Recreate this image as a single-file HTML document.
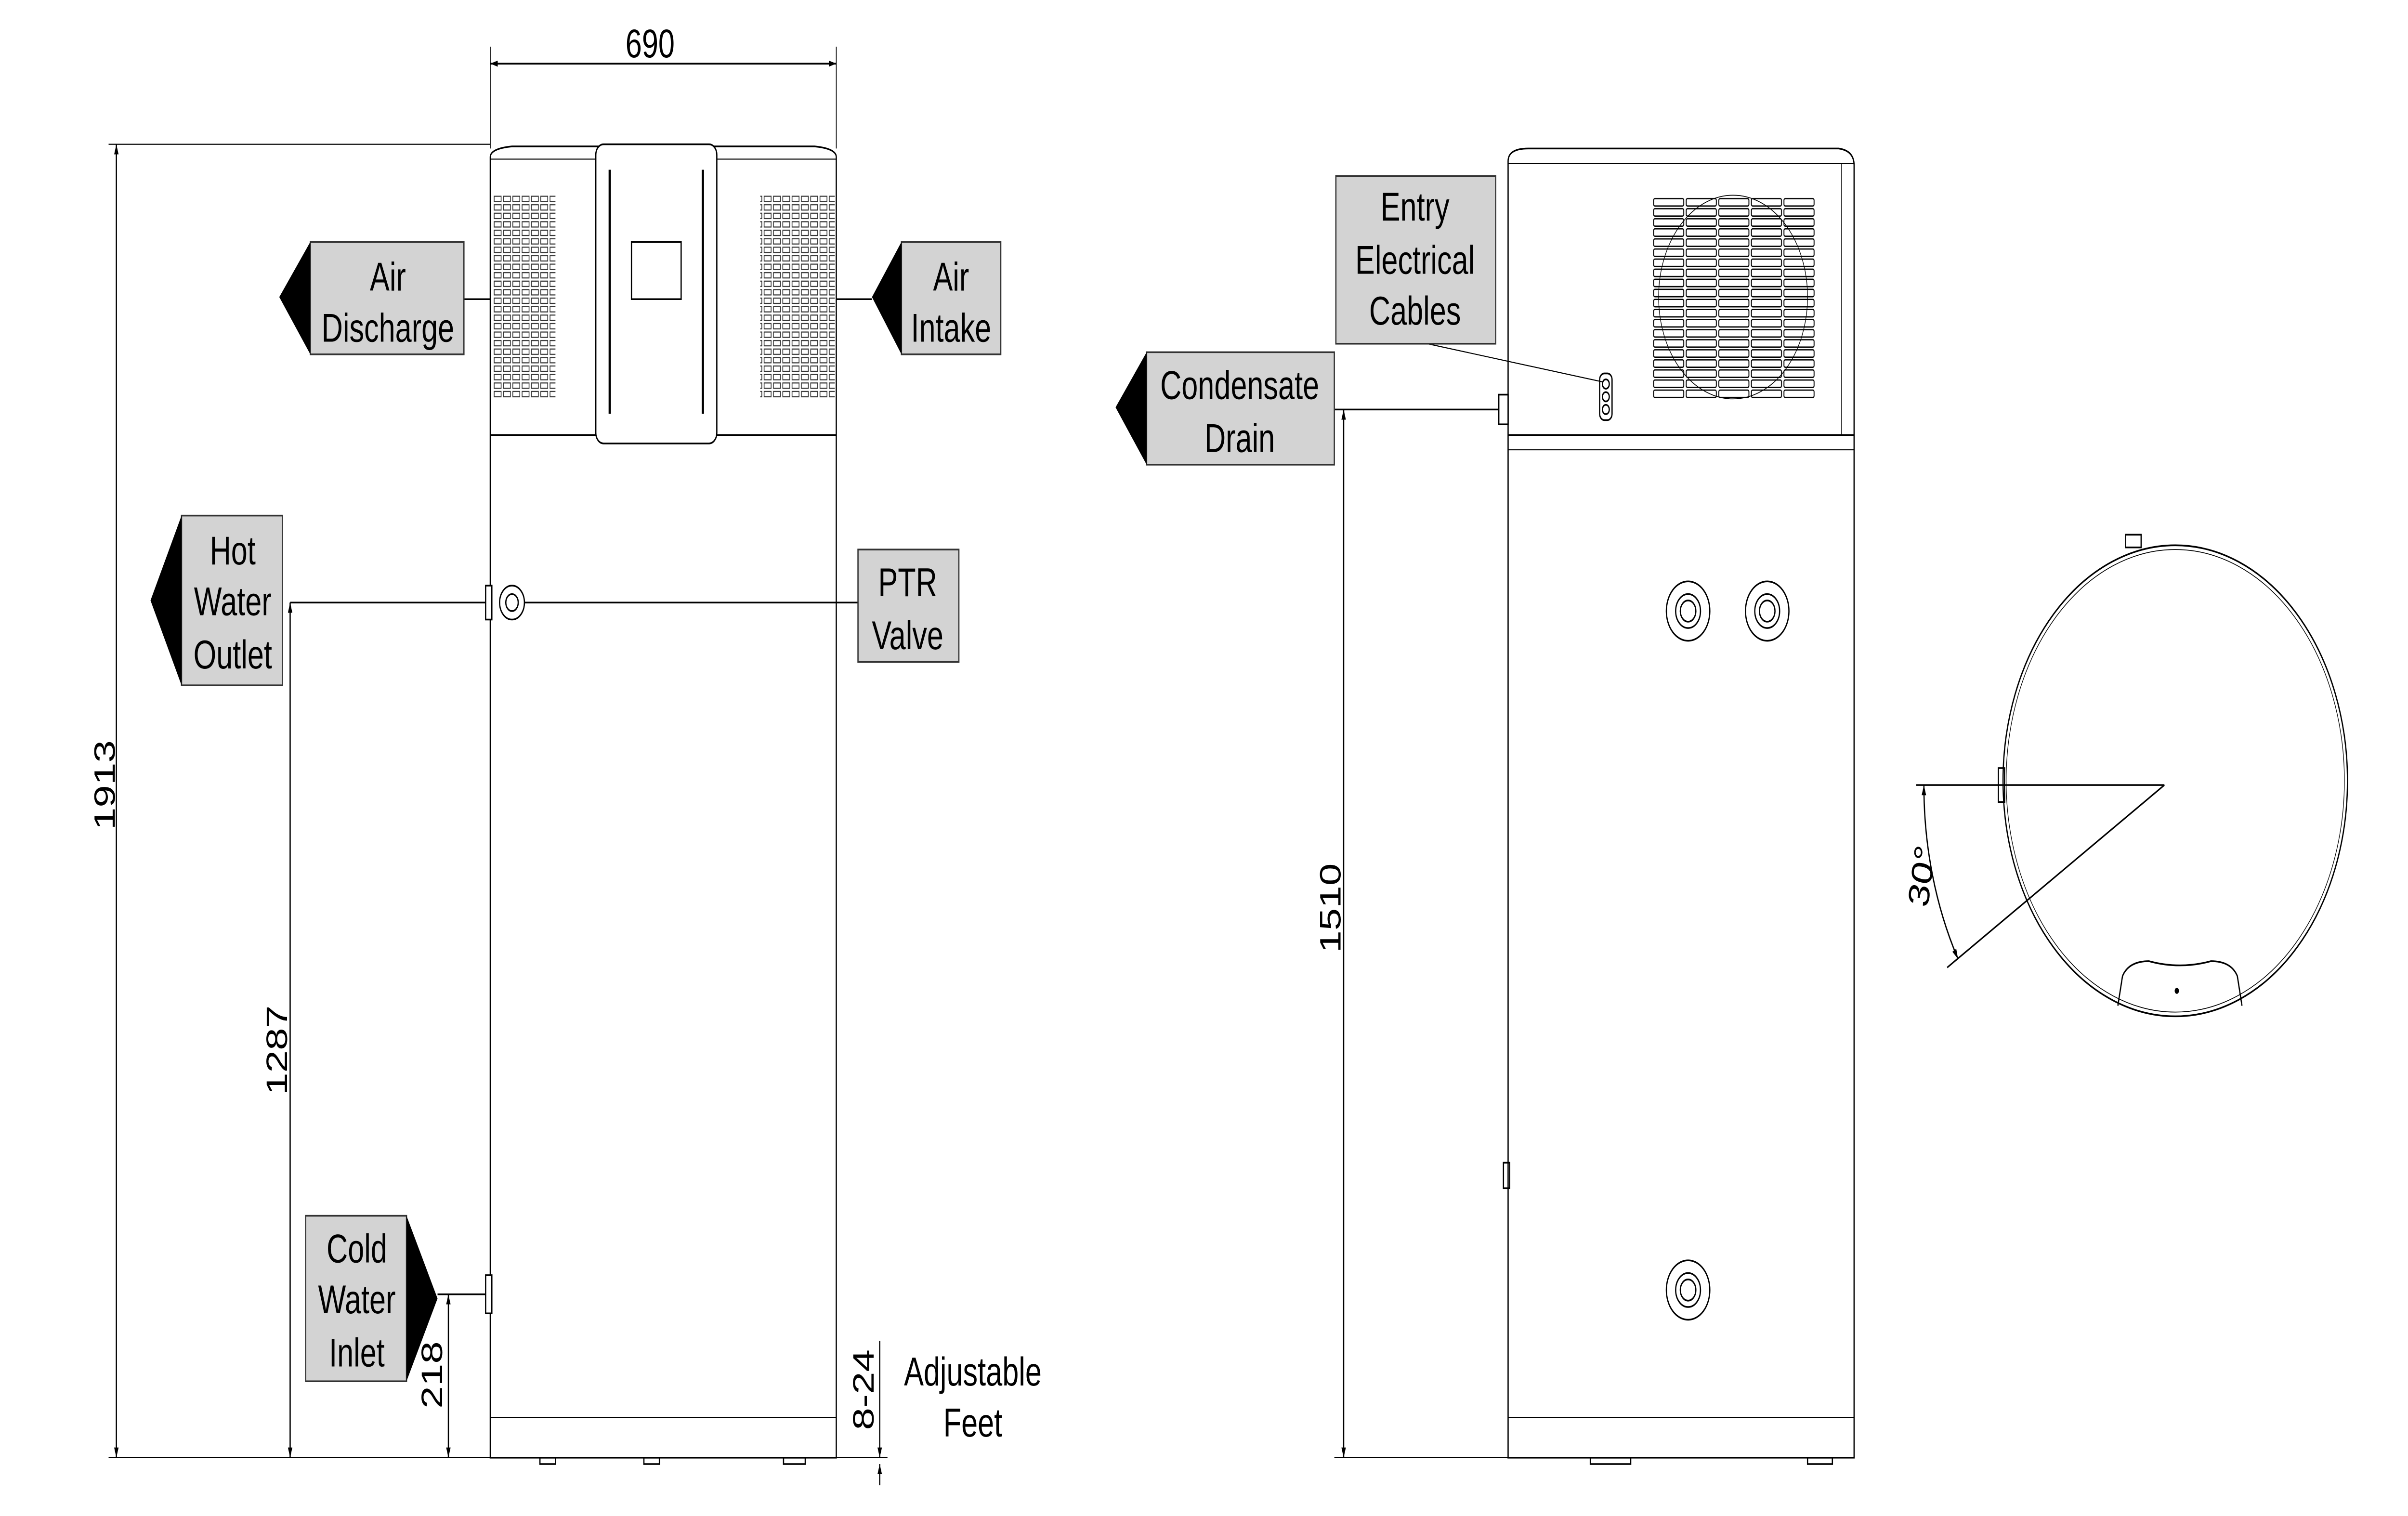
<!DOCTYPE html>
<html><head><meta charset="utf-8"><style>html,body{margin:0;padding:0;background:#fff;width:100%;height:100%;overflow:hidden}svg{display:block;width:100vw;height:100vh}</style></head><body>
<svg viewBox="0 0 1552 714.5" preserveAspectRatio="none" xmlns="http://www.w3.org/2000/svg" font-family="Liberation Sans, sans-serif">
<defs>
<marker id="a" viewBox="0 0 10 10" refX="10" refY="5" markerWidth="6" markerHeight="6" orient="auto-start-reverse"><path d="M0,2 L10,5 L0,8 z" fill="#000"/></marker>
<pattern id="g" width="6" height="4" patternUnits="userSpaceOnUse"><rect x="0.5" y="0.5" width="4.5" height="2.5" fill="none" stroke="#333" stroke-width="0.5"/></pattern>
<pattern id="f" x="1065" y="93" width="21" height="4.75" patternUnits="userSpaceOnUse"><rect x="0.8" y="0.6" width="19.4" height="3.5" rx="0.8" fill="none" stroke="#000" stroke-width="0.6"/></pattern>
</defs>
<g stroke="#000" stroke-width="0.8" fill="none">
<path d="M316,74 Q316,70 330,69 L525,69 Q539,70 539,74 L539,687 L316,687 Z" fill="#fff"/>
<line x1="316" y1="75" x2="539" y2="75" stroke-width="0.5"/>
<line x1="316" y1="205" x2="539" y2="205"/>
<line x1="316" y1="668" x2="539" y2="668" stroke-width="0.5"/>
<rect x="318" y="92" width="40" height="96" fill="url(#g)" stroke="none"/>
<rect x="490" y="92" width="48" height="96" fill="url(#g)" stroke="none"/>
<rect x="384" y="68" width="78" height="141" rx="5" fill="#fff"/>
<rect x="407" y="114" width="32" height="27"/>
<line x1="393" y1="80" x2="393" y2="195" stroke-width="1.5"/>
<line x1="453" y1="80" x2="453" y2="195" stroke-width="1.5"/>
<rect x="348" y="687" width="10" height="3"/><rect x="415" y="687" width="10" height="3"/><rect x="505" y="687" width="14" height="3"/>
<line x1="316" y1="22" x2="316" y2="70" stroke-width="0.5"/><line x1="539" y1="22" x2="539" y2="70" stroke-width="0.5"/>
<line x1="316" y1="30" x2="539" y2="30" marker-start="url(#a)" marker-end="url(#a)"/>
<line x1="70" y1="68" x2="316" y2="68" stroke-width="0.5"/>
<line x1="70" y1="687" x2="572" y2="687" stroke-width="0.5"/>
<line x1="75" y1="68" x2="75" y2="687" marker-start="url(#a)" marker-end="url(#a)"/>
<line x1="187" y1="284" x2="316" y2="284"/>
<line x1="187" y1="284" x2="187" y2="687" marker-start="url(#a)" marker-end="url(#a)"/>
<line x1="282" y1="610" x2="316" y2="610"/>
<line x1="289" y1="610" x2="289" y2="687" marker-start="url(#a)" marker-end="url(#a)"/>
<line x1="567" y1="632" x2="567" y2="687" marker-end="url(#a)"/>
<line x1="567" y1="700" x2="567" y2="690" marker-end="url(#a)"/>
<rect x="313" y="276" width="4" height="16" fill="#fff"/>
<rect x="313" y="601" width="4" height="18" fill="#fff"/>
<circle cx="330" cy="284" r="8"/><circle cx="330" cy="284" r="4"/>
<line x1="338" y1="284" x2="553" y2="284"/>
<line x1="299" y1="141" x2="316" y2="141"/>
<line x1="539" y1="141" x2="562" y2="141"/>
<path d="M972,76 Q972,70 985,70 L1185,70 Q1195,71 1195,78 L1195,687 L972,687 Z" fill="#fff"/>
<line x1="972" y1="77" x2="1195" y2="77" stroke-width="0.5"/>
<line x1="972" y1="205" x2="1195" y2="205"/>
<line x1="972" y1="212" x2="1195" y2="212" stroke-width="0.5"/>
<line x1="1187" y1="77" x2="1187" y2="205" stroke-width="0.5"/>
<line x1="972" y1="668" x2="1195" y2="668" stroke-width="0.5"/>
<circle cx="1117" cy="140" r="48" stroke-width="0.4"/>
<rect x="1065" y="93" width="105" height="95" fill="url(#f)" stroke="none"/>
<rect x="969" y="548" width="4" height="12"/>
<circle cx="1088" cy="288" r="14"/><circle cx="1088" cy="288" r="8"/><circle cx="1088" cy="288" r="5"/>
<circle cx="1139" cy="288" r="14"/><circle cx="1139" cy="288" r="8"/><circle cx="1139" cy="288" r="5"/>
<circle cx="1088" cy="608" r="14"/><circle cx="1088" cy="608" r="8"/><circle cx="1088" cy="608" r="5"/>
<rect x="1031" y="176" width="8" height="22" rx="3" fill="#fff"/>
<circle cx="1035" cy="181" r="2.2"/><circle cx="1035" cy="187" r="2.2"/><circle cx="1035" cy="193" r="2.2"/>
<line x1="920" y1="162" x2="1033" y2="180" stroke-width="0.5"/>
<line x1="860" y1="193" x2="972" y2="193"/>
<rect x="966" y="186" width="6" height="14" fill="#fff"/>
<line x1="860" y1="687" x2="972" y2="687" stroke-width="0.5"/>
<line x1="866" y1="193" x2="866" y2="687" marker-start="url(#a)" marker-end="url(#a)"/>
<rect x="1025" y="687" width="26" height="3"/><rect x="1165" y="687" width="16" height="3"/>
<circle cx="1402" cy="368" r="111" fill="#fff"/>
<circle cx="1402" cy="368" r="109" stroke-width="0.4"/>
<rect x="1370" y="252" width="10" height="6"/>
<path d="M1365,474 L1368,460 Q1372,453 1385,453 Q1405,457 1425,453 Q1438,453 1442,460 L1445,474"/>
<circle cx="1403" cy="467" r="1" fill="#000"/>
<rect x="1288" y="362" width="4" height="16"/>
<line x1="1235" y1="370" x2="1395" y2="370"/>
<line x1="1395" y1="370" x2="1255" y2="456"/>
<path d="M1240,370 A162,162 0 0 0 1262,452" marker-start="url(#a)" marker-end="url(#a)"/>
</g>
<g fill="#d3d3d3" stroke="#333" stroke-width="0.8">
<rect x="200" y="114" width="99" height="53"/><rect x="581" y="114" width="64" height="53"/>
<rect x="117" y="243" width="65" height="80"/><rect x="553" y="259" width="65" height="53"/>
<rect x="197" y="573" width="65" height="78"/>
<rect x="861" y="83" width="103" height="79"/><rect x="739" y="166" width="121" height="53"/>
</g>
<g fill="#000">
<path d="M200,114 L180,140 L200,167Z"/><path d="M581,114 L562,140 L581,167Z"/>
<path d="M117,243 L97,283 L117,323Z"/><path d="M262,573 L282,612 L262,651Z"/>
<path d="M739,166 L719,192 L739,219Z"/>
</g>
<g font-size="19" text-anchor="middle" fill="#000">
<text x="419" y="27">690</text>
<text x="250" y="137">Air</text><text x="250" y="161">Discharge</text>
<text x="613" y="137">Air</text><text x="613" y="161">Intake</text>
<text x="150" y="266">Hot</text><text x="150" y="290">Water</text><text x="150" y="315">Outlet</text>
<text x="585" y="281">PTR</text><text x="585" y="306">Valve</text>
<text x="230" y="595">Cold</text><text x="230" y="619">Water</text><text x="230" y="644">Inlet</text>
<text x="627" y="653">Adjustable</text><text x="627" y="677">Feet</text>
<text x="912" y="104">Entry</text><text x="912" y="129">Electrical</text><text x="912" y="153">Cables</text>
<text x="799" y="188">Condensate</text><text x="799" y="213">Drain</text>
<text transform="translate(74,370) rotate(-90)">1913</text>
<text transform="translate(185,495) rotate(-90)">1287</text>
<text transform="translate(285,648) rotate(-90)">218</text>
<text transform="translate(563,655) rotate(-90)">8-24</text>
<text transform="translate(864,428) rotate(-90)">1510</text>
<text transform="translate(1245,414) rotate(-80)">30°</text>
</g>
</svg>
</body></html>
